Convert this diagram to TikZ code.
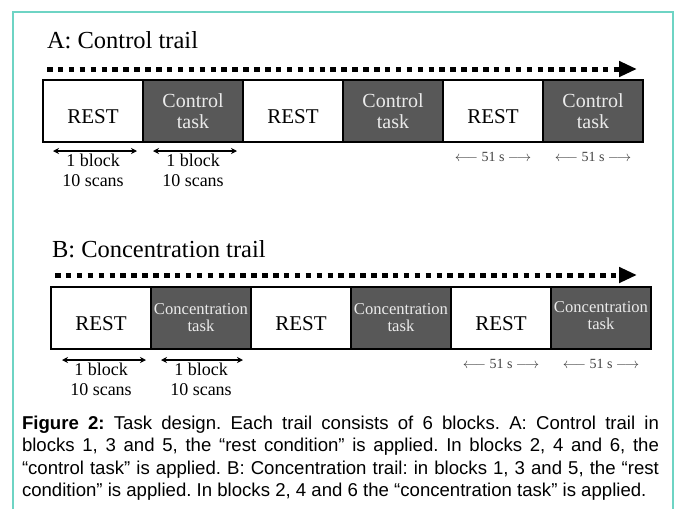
\documentclass[tikz,border=0pt]{standalone}
\usepackage{fontspec}
\setmainfont{Liberation Serif}
\newfontfamily\capfont{Liberation Sans}
\usetikzlibrary{positioning,arrows.meta}
\definecolor{framecol}{RGB}{110,212,196}
\definecolor{taskgray}{RGB}{88,88,88}
\frenchspacing

\begin{document}
\begin{tikzpicture}[x=1pt,y=-1pt,>={Stealth[length=6pt,width=6pt]},
	every node/.style={inner sep=0pt,outer sep=0pt},
	block/.style={draw,line width=2pt,minimum width=100pt,minimum height=62pt},
	restbox/.style={block,fill=white,font=\fontsize{21}{21}\selectfont,text height=24pt,text depth=0pt},
	ctrlbox/.style={block,fill=taskgray,text=black!8,align=center,font=\fontsize{20}{21}\selectfont},
	concbox/.style={block,fill=taskgray,text=black!8,align=center,font=\fontsize{16.6}{17}\selectfont},
	timeline/.style={line width=5pt,dash pattern=on 5.5pt off 5.4pt,-{Triangle[length=18pt,width=15pt]}},
	blockarrow/.style={<->,line width=1.2pt},
	blocklabel/.style={align=center,font=\fontsize{18}{20}\selectfont},
	seclabel/.style={text=black!75,font=\fontsize{14}{14}\selectfont},
	trailtitle/.style={anchor=base west,font=\fontsize{24.5}{24.5}\selectfont}]
	\useasboundingbox (0,0) rectangle (680,509);
	\draw[framecol,line width=1.5pt] (13,509) -- (13,12) -- (673,12) -- (673,509);

	% A: control trail
	\node[trailtitle] (ta) at (47,48) {A: Control trail};
	\node[restbox,anchor=north west] (a1) at (43,80) {REST};
	\node[ctrlbox,right=0pt of a1] (a2) {Control\\task};
	\node[restbox,right=0pt of a2] (a3) {REST};
	\node[ctrlbox,right=0pt of a3] (a4) {Control\\task};
	\node[restbox,right=0pt of a4] (a5) {REST};
	\node[ctrlbox,right=0pt of a5] (a6) {Control\\task};
	\draw[timeline] ([shift={(4pt,11pt)}]a1.north west) -- ([shift={(-6pt,11pt)}]a6.north east);

	\node[blocklabel,below=12pt of a1] (la1) {1 block\\10 scans};
	\node[blocklabel,below=12pt of a2] (la2) {1 block\\10 scans};
	\draw[blockarrow] ([shift={(10pt,-9pt)}]a1.south west) -- ([shift={(-6pt,-9pt)}]a1.south east);
	\draw[blockarrow] ([shift={(10pt,-9pt)}]a2.south west) -- ([shift={(-6pt,-9pt)}]a2.south east);
	\node[seclabel,below=10pt of a5] (sa5) {$\longleftarrow$ 51 s $\longrightarrow$};
	\node[seclabel,below=10pt of a6] (sa6) {$\longleftarrow$ 51 s $\longrightarrow$};

	% B: concentration trail
	\node[trailtitle] (tb) at (52,257) {B: Concentration trail};
	\node[restbox,anchor=north west] (b1) at (51,287) {REST};
	\node[concbox,right=0pt of b1] (b2) {Concentration\\task};
	\node[restbox,right=0pt of b2] (b3) {REST};
	\node[concbox,right=0pt of b3] (b4) {Concentration\\task};
	\node[restbox,right=0pt of b4] (b5) {REST};
	\node[concbox,right=0pt of b5,text depth=5pt] (b6) {Concentration\\task};
	\draw[timeline] ([shift={(4pt,12pt)}]b1.north west) -- ([shift={(-14pt,12pt)}]b6.north east);

	\node[blocklabel,below=14pt of b1] (lb1) {1 block\\10 scans};
	\node[blocklabel,below=14pt of b2] (lb2) {1 block\\10 scans};
	\draw[blockarrow] ([shift={(11pt,-11pt)}]b1.south west) -- ([shift={(-5pt,-11pt)}]b1.south east);
	\draw[blockarrow] ([shift={(10pt,-11pt)}]b2.south west) -- ([shift={(-8pt,-11pt)}]b2.south east);
	\node[seclabel,below=10pt of b5] (sb5) {$\longleftarrow$ 51 s $\longrightarrow$};
	\node[seclabel,below=10pt of b6] (sb6) {$\longleftarrow$ 51 s $\longrightarrow$};

	% caption
	\node[anchor=north west,text width=637pt,align=justify,font=\capfont\fontsize{18.6}{22.3}\selectfont] (cap) at (22,416)
		{\textbf{Figure 2:} Task design. Each trail consists of 6 blocks. A: Control trail in\linebreak
		blocks 1, 3 and 5, the “rest condition” is applied. In blocks 2, 4 and 6, the\linebreak
		“control task” is applied. B: Concentration trail: in blocks 1, 3 and 5, the “rest\linebreak
		condition” is applied. In blocks 2, 4 and 6 the “concentration task” is applied.};
\end{tikzpicture}
\end{document}
